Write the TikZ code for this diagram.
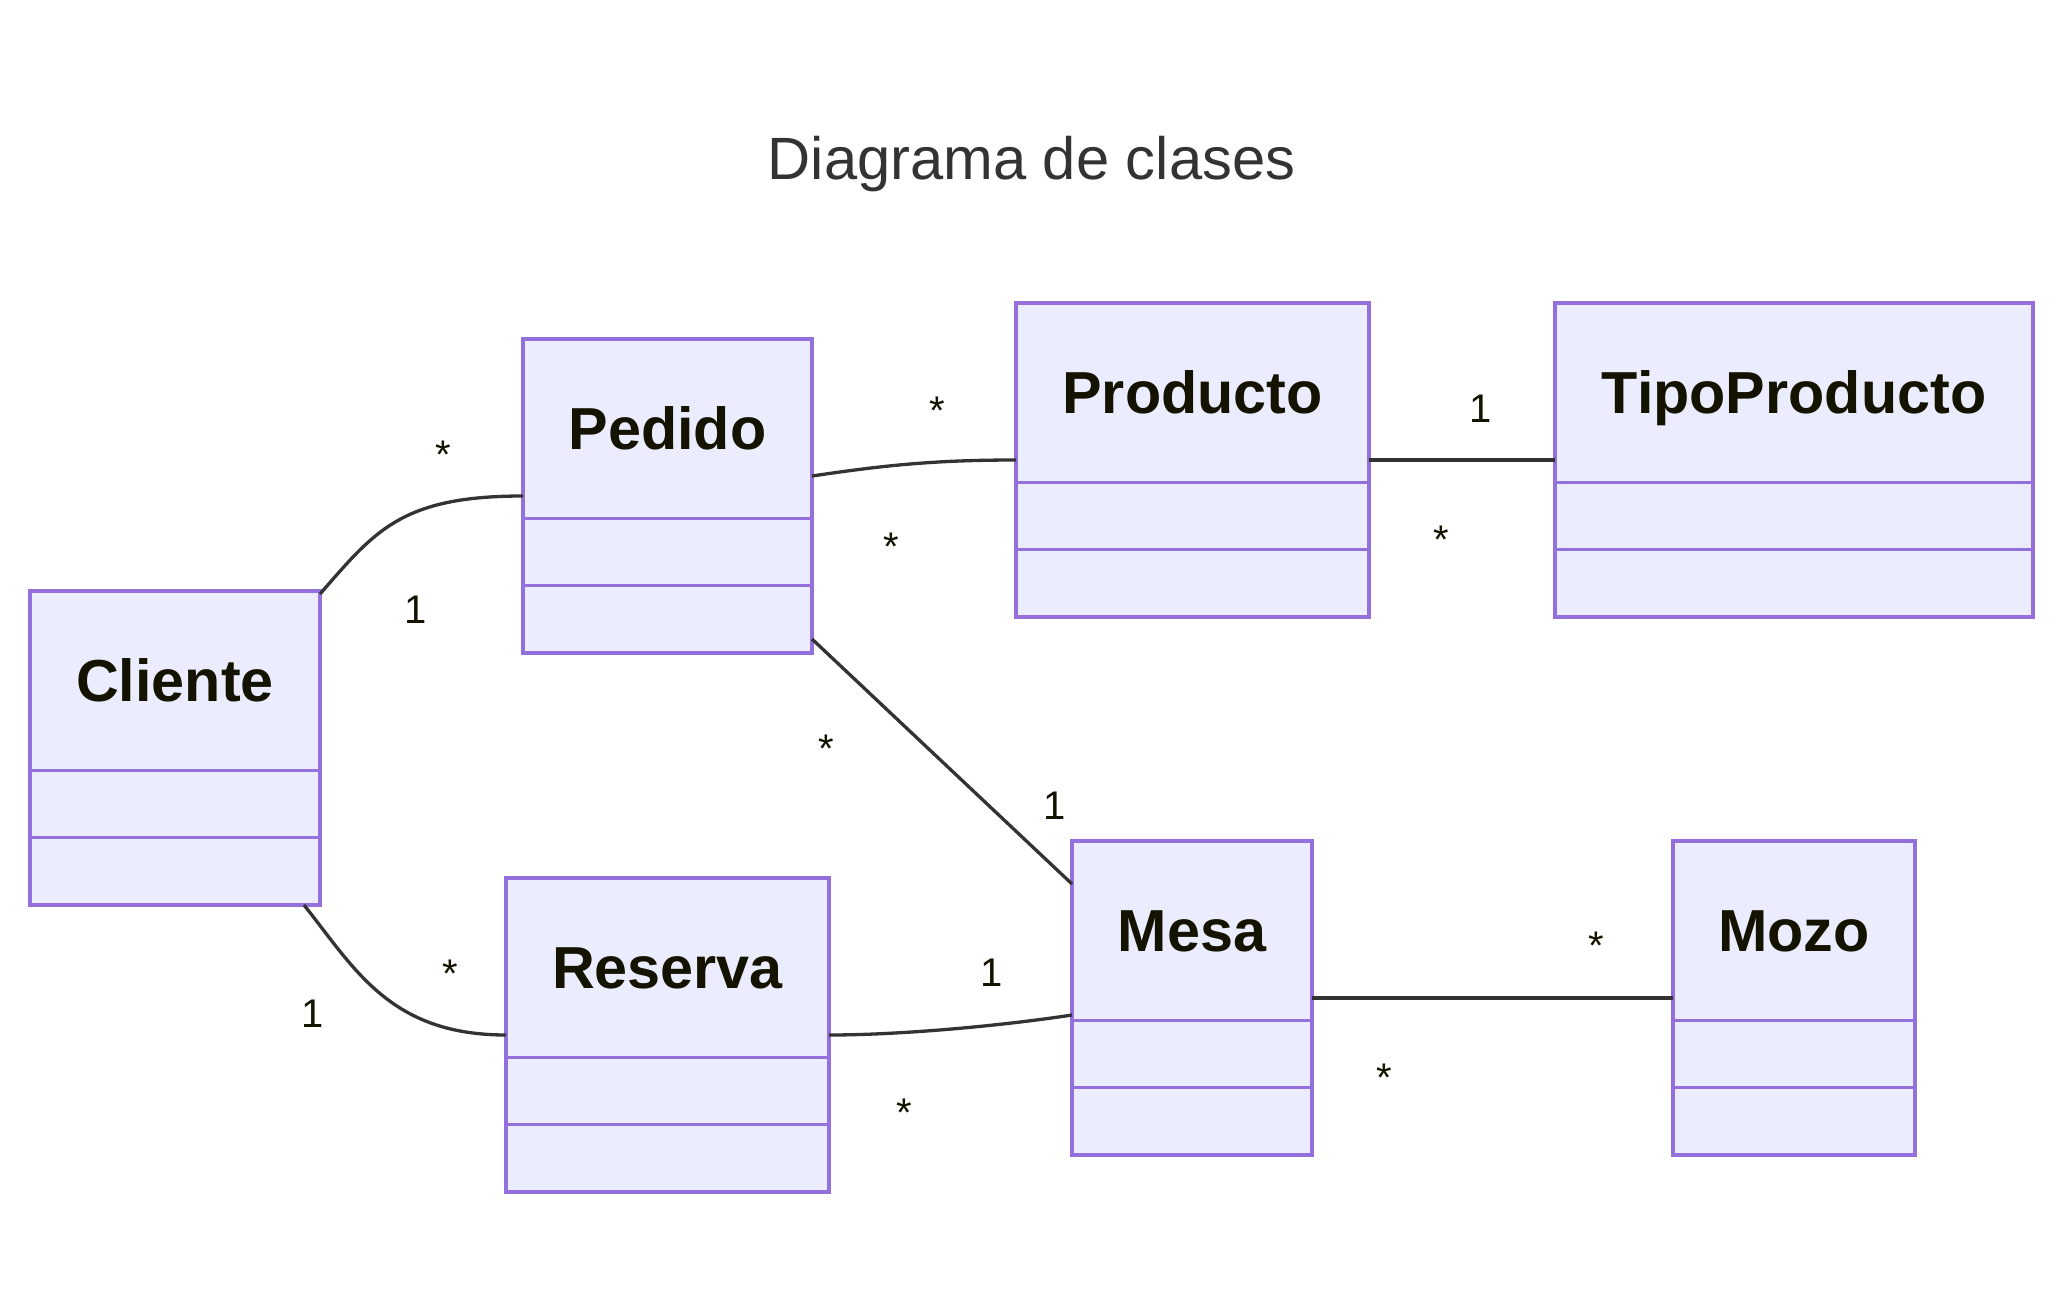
\documentclass[tikz,border=0pt]{standalone}
\usepackage{fontspec}
\setmainfont{Liberation Sans}
\usetikzlibrary{calc}
\definecolor{boxfill}{HTML}{ECECFF}
\definecolor{boxdraw}{HTML}{9370DB}
\definecolor{edgecol}{HTML}{333333}
\definecolor{txtcol}{HTML}{131300}
\definecolor{titlecol}{HTML}{333333}
\tikzset{
  classbox/.style={draw=boxdraw, fill=boxfill, line width=3.2pt, rectangle, minimum height=314pt, inner sep=0pt, outer sep=0pt},
  classline/.style={draw=boxdraw, line width=3.2pt},
  classname/.style={text=txtcol, font=\fontsize{59.3}{70}\selectfont\bfseries, inner sep=0pt},
  mult/.style={text=txtcol, font=\fontsize{40}{46}\selectfont, inner sep=0pt, anchor=base},
  assoc/.style={draw=edgecol, line width=3.3pt},
  titletext/.style={text=titlecol, font=\fontsize{59.7}{70}\selectfont, inner sep=0pt, anchor=base}
}
\newcommand\umlclass[5]{%
  \node[classbox, minimum width=#4pt, anchor=north west] (#1) at (#2,#3) {};
  \draw[classline] ([yshift=-179.5pt]#1.north west) -- ([yshift=-179.5pt]#1.north east);
  \draw[classline] ([yshift=-246.5pt]#1.north west) -- ([yshift=-246.5pt]#1.north east);
  \node[classname, anchor=base] (#1-name) at ([yshift=-110pt]#1.north) {#5};
}
\begin{document}
\begin{tikzpicture}[x=1pt, y=-1pt]
\useasboundingbox[fill=white] (0,0) rectangle (2063,1316);
\node[titletext] (title) at (1031.5,180) {Diagrama de clases};

\umlclass{cliente}{30}{591}{290}{Cliente}
\umlclass{pedido}{523}{339}{289}{Pedido}
\umlclass{producto}{1016}{303}{353}{Producto}
\umlclass{tipo}{1555}{303}{478}{TipoProducto}
\umlclass{reserva}{506}{878}{323}{Reserva}
\umlclass{mesa}{1072}{841}{240}{Mesa}
\umlclass{mozo}{1673}{841}{242}{Mozo}

% connectors
\draw[assoc] ([yshift=-3pt]cliente.north east) .. controls ($(cliente.north east)+(55,-60)$) and ($(pedido.west)+(-122,0)$) .. (pedido.west);
\draw[assoc] ([xshift=-16pt]cliente.south east) .. controls ($(cliente.south east)+(35,64)$) and ($(reserva.west)+(-116,0)$) .. (reserva.west);
\draw[assoc] ([yshift=20pt]pedido.east) .. controls ($(pedido.east)+(68,-30)$) and ($(producto.west)+(-86,0)$) .. (producto.west);
\draw[assoc] (producto.east) -- (tipo.west);
\draw[assoc] ([yshift=14pt]pedido.south east) -- ([yshift=-43pt]mesa.north west);
\draw[assoc] (reserva.east) .. controls ($(reserva.east)+(71,0)$) and ($(mesa.west)+(-72,28)$) .. ([yshift=-17pt]mesa.west);
\draw[assoc] (mesa.east) -- (mozo.west);

% multiplicities
\node[mult] (m1) at (443,468) {*};
\node[mult] (m2) at (416,623) {1};
\node[mult] (m3) at (313,1027) {1};
\node[mult] (m4) at (450,987) {*};
\node[mult] (m5) at (937,424) {*};
\node[mult] (m6) at (891,560) {*};
\node[mult] (m7) at (1481,422) {1};
\node[mult] (m8) at (1441,553) {*};
\node[mult] (m9) at (826,762) {*};
\node[mult] (m10) at (1055,819) {1};
\node[mult] (m11) at (992,986) {1};
\node[mult] (m12) at (904,1126) {*};
\node[mult] (m13) at (1384,1091) {*};
\node[mult] (m14) at (1596,959) {*};
\end{tikzpicture}
\end{document}
